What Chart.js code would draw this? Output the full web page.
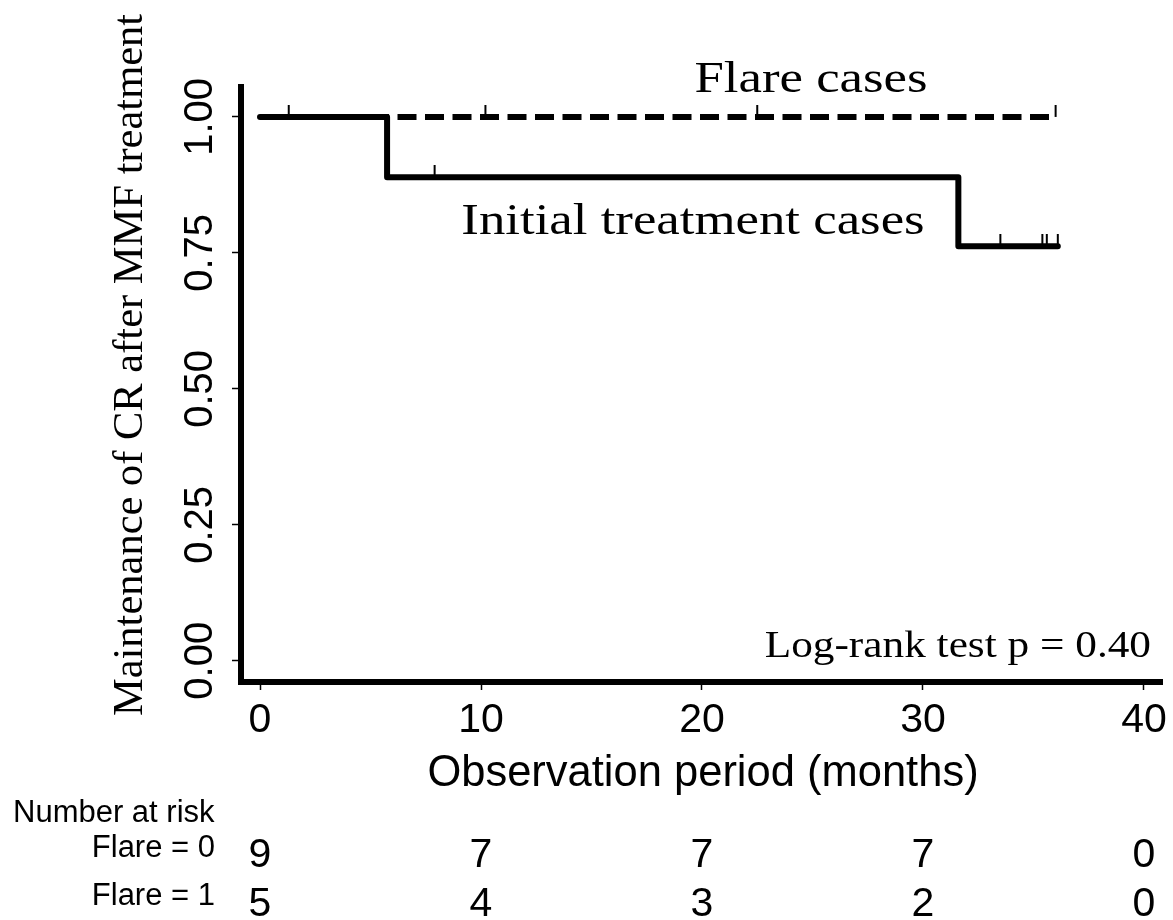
<!DOCTYPE html>
<html>
<head>
<meta charset="utf-8">
<script src="https://cdn.jsdelivr.net/npm/chart.js@4"></script>
<style>
  html, body { margin: 0; padding: 0; background: #fff; }
  #wrap { width: 1173px; height: 920px; position: relative; }
</style>
</head>
<body>
<div id="wrap"><canvas id="kmChart" width="1173" height="920"></canvas></div>
<script>
// axis ticks
const timeTicks = [0, 10, 20, 30, 40];
const survTicks = [0, 0.25, 0.5, 0.75, 1];
const survTickLabels = ['0.00', '0.25', '0.50', '0.75', '1.00'];

// Kaplan-Meier steps (months, survival)
const initialTimes = [0, 5.75, 31.6, 36.1];
const initialSurv = [1, 0.889, 0.762, 0.762];
const flareTimes = [0, 36.0];
const flareSurv = [1, 1];

// censored observations
const initialCensorTimes = [7.9, 33.5, 35.4, 35.6, 36.1];
const initialCensorSurv = [0.889, 0.762, 0.762, 0.762, 0.762];
const flareCensorTimes = [1.3, 10.2, 22.5, 36.0];
const flareCensorSurv = [1, 1, 1, 1];

// number at risk at each time tick
const riskFlare0 = [9, 7, 7, 7, 0];
const riskFlare1 = [5, 4, 3, 2, 0];

const SERIF = "'Liberation Serif', 'Times New Roman', serif";
const SANS = "'Liberation Sans', Arial, Helvetica, sans-serif";

function toPoints(xs, ys) {
  return xs.map((x, i) => ({ x, y: ys[i] }));
}

// small vertical tick that sits above the curve (image is centred on the point)
function censorMark() {
  const c = document.createElement('canvas');
  c.width = 4;
  c.height = 24;
  const g = c.getContext('2d');
  g.fillStyle = '#000';
  g.fillRect(1, 0, 2, 12);
  return c;
}

// Stata-like text looks horizontally wide; draw with a stretch factor
function wideText(ctx, text, x, y, font, align, sx) {
  ctx.save();
  ctx.font = font;
  ctx.textAlign = align;
  ctx.textBaseline = 'alphabetic';
  ctx.translate(x, y);
  ctx.scale(sx, 1);
  ctx.fillText(text, 0, 0);
  ctx.restore();
}

const annotations = {
  id: 'annotations',
  afterDraw(chart) {
    const { ctx } = chart;
    const x = chart.scales.x;
    const y = chart.scales.y;
    ctx.save();
    ctx.fillStyle = '#000';

    // y tick labels, rotated
    ctx.font = `40px ${SANS}`;
    ctx.textAlign = 'center';
    ctx.textBaseline = 'alphabetic';
    survTicks.forEach((v, i) => {
      ctx.save();
      ctx.translate(212, y.getPixelForValue(v));
      ctx.rotate(-Math.PI / 2);
      ctx.fillText(survTickLabels[i], 0, 0);
      ctx.restore();
    });

    // y title
    ctx.save();
    ctx.font = `42.5px ${SERIF}`;
    ctx.translate(142, 365);
    ctx.rotate(-Math.PI / 2);
    ctx.fillText('Maintenance of CR after MMF treatment', 0, 0);
    ctx.restore();

    // x title
    wideText(ctx, 'Observation period (months)', 703, 786, `43.5px ${SANS}`, 'center', 1.0);

    // curve labels
    wideText(ctx, 'Flare cases', 811, 92, `44px ${SERIF}`, 'center', 1.2);
    wideText(ctx, 'Initial treatment cases', 693, 234, `44px ${SERIF}`, 'center', 1.2);
    wideText(ctx, 'Log-rank test p = 0.40', 1151, 657, `37px ${SERIF}`, 'right', 1.17);

    // number at risk table
    ctx.font = `31px ${SANS}`;
    ctx.textAlign = 'left';
    ctx.fillText('Number at risk', 13, 822);
    ctx.textAlign = 'right';
    ctx.fillText('Flare = 0', 215, 857);
    ctx.fillText('Flare = 1', 215, 905);

    ctx.font = `41px ${SANS}`;
    ctx.textAlign = 'center';
    timeTicks.forEach((t, i) => {
      const px = x.getPixelForValue(t);
      ctx.fillText(String(riskFlare0[i]), px, 867);
      ctx.fillText(String(riskFlare1[i]), px, 916);
    });
    ctx.restore();
  },
};

const mark = censorMark();

new Chart(document.getElementById('kmChart'), {
  type: 'line',
  data: {
    datasets: [
      {
        label: 'censored',
        data: [
          ...toPoints(flareCensorTimes, flareCensorSurv),
          ...toPoints(initialCensorTimes, initialCensorSurv),
        ],
        showLine: false,
        pointStyle: mark,
        pointRadius: 6,
        pointHoverRadius: 6,
      },
      {
        label: 'Initial treatment cases',
        data: toPoints(initialTimes, initialSurv),
        stepped: 'before',
        borderColor: '#000',
        borderWidth: 6,
        borderCapStyle: 'round',
        borderJoinStyle: 'round',
        pointRadius: 0,
        fill: false,
      },
      {
        label: 'Flare cases',
        data: toPoints(flareTimes, flareSurv),
        stepped: 'before',
        borderColor: '#000',
        borderWidth: 6,
        borderDash: [19, 8.5],
        borderCapStyle: 'butt',
        pointRadius: 0,
        fill: false,
      },
    ],
  },
  options: {
    responsive: false,
    animation: false,
    devicePixelRatio: 1,
    events: [],
    layout: { padding: { top: 87, right: 10, left: 0, bottom: 0 } },
    plugins: {
      legend: { display: false },
      tooltip: { enabled: false },
    },
    scales: {
      x: {
        type: 'linear',
        min: -0.86,
        max: 40.86,
        afterBuildTicks: scale => {
          scale.ticks = timeTicks.map(v => ({ value: v }));
        },
        afterFit: scale => {
          scale.height = 238;
        },
        border: { display: true, width: 6, color: '#000' },
        grid: {
          drawOnChartArea: false,
          drawTicks: true,
          tickLength: 8,
          tickWidth: 1.5,
          tickColor: '#000',
        },
        ticks: {
          color: '#000',
          font: { family: SANS, size: 41 },
          padding: 6,
          maxRotation: 0,
          autoSkip: false,
          callback: value => String(value),
        },
      },
      y: {
        type: 'linear',
        min: -0.039,
        max: 1.055,
        afterBuildTicks: scale => {
          scale.ticks = survTicks.map(v => ({ value: v }));
        },
        afterFit: scale => {
          scale.width = 241;
        },
        border: { display: true, width: 6, color: '#000' },
        grid: {
          drawOnChartArea: false,
          drawTicks: true,
          tickLength: 9,
          tickWidth: 1.5,
          tickColor: '#000',
        },
        ticks: { display: false },
      },
    },
  },
  plugins: [annotations],
});
</script>
</body>
</html>
